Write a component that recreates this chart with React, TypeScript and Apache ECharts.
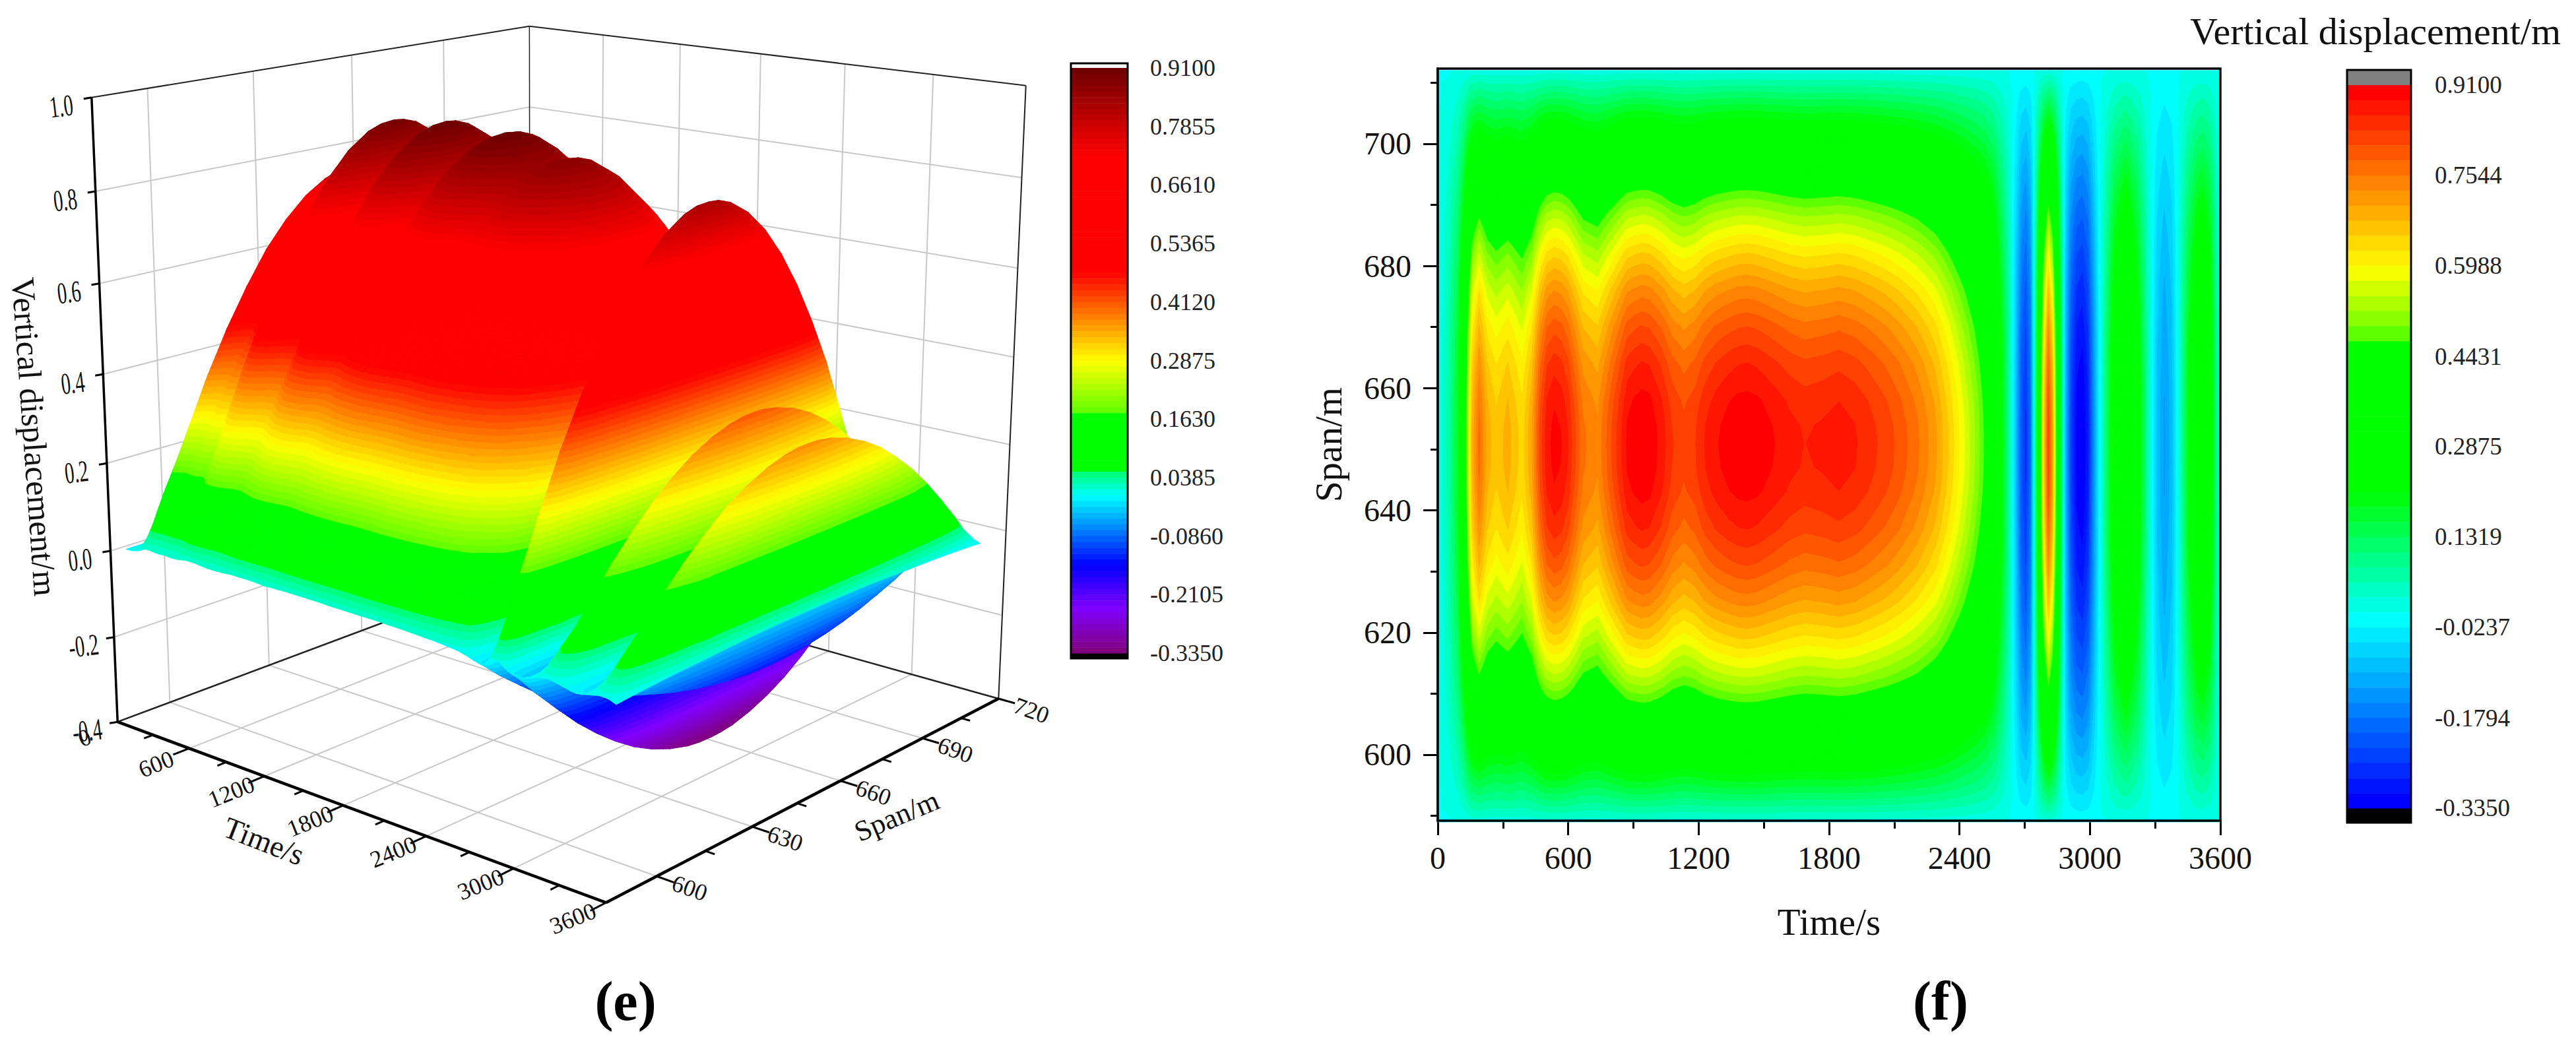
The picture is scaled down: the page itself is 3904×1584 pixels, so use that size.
import React, { useEffect, useRef } from "react";
import * as echarts from "echarts";

const FONT = "'Liberation Serif', 'Times New Roman', serif";

// ---- data ----
const times = [0,50,90,115,135,155,190,230,269,322,387,430,470,500,535,570,600,670,734,800,870,905,939,975,1030,1080,1132,1180,1230,1280,1330,1380,1422,1470,1550,1620,1688,1770,1845,1920,2000,2060,2120,2208,2290,2353,2420,2474,2520,2560,2600,2630,2660,2685,2705,2725,2745,2765,2785,2808,2830,2850,2870,2890,2915,2940,2965,2990,3015,3040,3070,3110,3165,3220,3270,3310,3342,3375,3410,3450,3490,3520,3555,3585,3600];
const spans = [589,595,601,607,613,619,625,631,637,643,647,651,654,658,664,670,676,682,688,694,700,706,712];

const r589 = [0,.001,.004,.007,.010,.014,.015,.014,.013,.014,.013,.014,.016,.018,.018,.018,.017,.015,.015,.016,.018,.018,.018,.018,.018,.017,.016,.017,.017,.018,.018,.018,.018,.018,.018,.017,.017,.017,.017,.017,.017,.016,.016,.015,.014,.013,.012,.010,.009,.007,.004,.001,-.002,-.004,-.005,-.004,.001,.007,.013,.017,.014,.008,.003,-.002,-.005,-.006,-.007,-.006,-.003,0,.002,.006,.008,.005,.001,-.002,-.003,-.002,.001,.004,.007,.007,.006,.002,0];
const r595 = [0,.013,.034,.063,.099,.129,.146,.131,.125,.131,.122,.133,.156,.166,.170,.168,.163,.144,.140,.154,.169,.171,.173,.172,.166,.159,.155,.158,.164,.168,.170,.172,.173,.172,.168,.165,.163,.164,.166,.164,.160,.156,.152,.144,.135,.124,.110,.099,.087,.068,.038,.013,-.015,-.042,-.049,-.034,.010,.067,.122,.158,.133,.080,.025,-.019,-.048,-.061,-.064,-.055,-.029,-.004,.019,.053,.078,.049,.010,-.015,-.025,-.017,.006,.038,.063,.070,.053,.015,.004];
const r601 = [0,.024,.061,.112,.177,.231,.262,.235,.224,.235,.218,.238,.279,.298,.304,.301,.292,.258,.250,.275,.303,.307,.309,.308,.298,.284,.277,.282,.293,.300,.304,.308,.309,.307,.301,.295,.292,.294,.296,.293,.286,.279,.272,.258,.241,.221,.197,.177,.156,.122,.068,.024,-.027,-.075,-.088,-.061,.017,.119,.218,.282,.238,.143,.044,-.034,-.085,-.109,-.114,-.099,-.051,-.007,.034,.095,.139,.088,.017,-.027,-.044,-.031,.010,.068,.112,.126,.095,.027,.007];
const r607 = [0,.034,.087,.160,.252,.330,.373,.335,.320,.335,.310,.340,.398,.424,.434,.429,.417,.369,.356,.393,.432,.437,.441,.439,.424,.405,.395,.403,.418,.428,.434,.439,.440,.438,.429,.421,.416,.419,.423,.418,.407,.399,.388,.369,.344,.315,.281,.252,.223,.175,.097,.034,-.039,-.107,-.126,-.087,.024,.170,.310,.403,.340,.204,.063,-.049,-.121,-.155,-.162,-.141,-.073,-.010,.049,.136,.199,.126,.024,-.039,-.063,-.044,.015,.097,.160,.179,.136,.039,.010];
const r613 = [0,.043,.110,.201,.317,.415,.470,.421,.403,.421,.390,.427,.500,.534,.546,.540,.525,.464,.448,.494,.543,.550,.555,.552,.534,.509,.497,.506,.526,.538,.546,.552,.554,.551,.540,.529,.523,.527,.532,.526,.512,.501,.488,.464,.433,.397,.354,.317,.281,.220,.122,.043,-.049,-.134,-.159,-.110,.031,.214,.390,.506,.427,.256,.079,-.061,-.153,-.195,-.204,-.177,-.092,-.012,.061,.171,.250,.159,.031,-.049,-.079,-.055,.018,.122,.201,.226,.171,.049,.012];
const r619 = [0,.050,.130,.238,.374,.490,.554,.497,.475,.497,.461,.504,.590,.630,.644,.637,.619,.547,.529,.583,.641,.649,.655,.652,.630,.601,.587,.598,.621,.635,.644,.652,.654,.650,.637,.625,.618,.622,.628,.621,.605,.592,.576,.547,.511,.468,.418,.374,.331,.259,.144,.050,-.058,-.158,-.187,-.130,.036,.252,.461,.598,.504,.302,.094,-.072,-.180,-.230,-.241,-.209,-.108,-.014,.072,.202,.295,.187,.036,-.058,-.094,-.065,.022,.144,.238,.266,.202,.058,.014];
const r625 = [0,.057,.147,.269,.424,.554,.628,.562,.538,.562,.522,.571,.668,.713,.729,.721,.701,.619,.599,.660,.725,.735,.742,.738,.713,.681,.664,.676,.703,.719,.729,.738,.740,.736,.721,.707,.699,.704,.711,.703,.685,.670,.652,.619,.579,.530,.473,.424,.375,.293,.163,.057,-.065,-.179,-.212,-.147,.041,.285,.522,.676,.571,.342,.106,-.082,-.204,-.261,-.273,-.236,-.122,-.016,.082,.228,.334,.212,.041,-.065,-.106,-.073,.024,.163,.269,.302,.228,.065,.016];
const r631 = [0,.062,.160,.294,.463,.605,.685,.614,.587,.614,.570,.623,.730,.779,.797,.788,.765,.676,.654,.721,.792,.803,.810,.805,.779,.743,.725,.739,.767,.785,.797,.805,.808,.804,.788,.773,.764,.769,.776,.767,.748,.732,.712,.676,.632,.579,.516,.463,.409,.320,.178,.062,-.071,-.196,-.231,-.160,.045,.312,.570,.739,.623,.374,.116,-.089,-.223,-.285,-.298,-.258,-.134,-.018,.089,.249,.365,.231,.045,-.071,-.116,-.080,.027,.178,.294,.329,.249,.071,.018];
const r637 = [0,.066,.170,.313,.492,.644,.729,.653,.625,.653,.606,.663,.777,.829,.848,.838,.814,.720,.696,.767,.843,.854,.862,.857,.829,.791,.772,.786,.816,.835,.848,.857,.860,.855,.838,.822,.813,.818,.826,.816,.795,.778,.758,.720,.672,.616,.549,.492,.436,.341,.189,.066,-.076,-.208,-.246,-.170,.047,.331,.606,.786,.663,.398,.123,-.095,-.237,-.303,-.317,-.275,-.142,-.019,.095,.265,.388,.246,.047,-.076,-.123,-.085,.028,.189,.313,.350,.265,.076,.019];
const r643 = [0,.069,.177,.325,.512,.669,.758,.679,.649,.679,.630,.689,.807,.861,.881,.871,.846,.748,.723,.797,.876,.888,.895,.891,.861,.822,.802,.817,.848,.868,.881,.891,.893,.889,.871,.854,.844,.850,.858,.848,.827,.809,.787,.748,.699,.640,.571,.512,.453,.354,.197,.069,-.079,-.216,-.256,-.177,.049,.344,.630,.817,.689,.413,.128,-.098,-.246,-.315,-.330,-.285,-.148,-.020,.098,.276,.403,.256,.049,-.079,-.128,-.089,.030,.197,.325,.364,.276,.079,.020];
const r647 = [0,.070,.179,.329,.518,.678,.768,.688,.658,.688,.638,.698,.818,.872,.892,.882,.857,.758,.733,.808,.887,.899,.907,.902,.872,.832,.813,.828,.859,.879,.892,.902,.905,.900,.882,.865,.855,.861,.869,.859,.837,.820,.798,.758,.708,.648,.578,.518,.459,.359,.199,.070,-.080,-.219,-.259,-.179,.050,.349,.638,.828,.698,.419,.130,-.100,-.249,-.319,-.334,-.289,-.150,-.020,.100,.279,.409,.259,.050,-.080,-.130,-.090,.030,.199,.329,.369,.279,.080,.020];
const r651 = [0,.07,.18,.33,.52,.68,.77,.69,.66,.69,.64,.70,.82,.875,.895,.885,.86,.76,.735,.81,.89,.902,.91,.905,.875,.835,.815,.83,.862,.882,.895,.905,.908,.903,.885,.868,.858,.864,.872,.862,.84,.822,.80,.76,.71,.65,.58,.52,.46,.36,.20,.07,-.08,-.22,-.26,-.18,.05,.35,.64,.83,.70,.42,.13,-.10,-.25,-.32,-.335,-.29,-.15,-.02,.10,.28,.41,.26,.05,-.08,-.13,-.09,.03,.20,.33,.37,.28,.08,.02];
// the picture is mirror-symmetric about mid-span, so the rows above 651 m read the same
const displacement = [r589,r595,r601,r607,r613,r619,r625,r631,r637,r643,r647,r651,r647,r643,r637,r631,r625,r619,r613,r607,r601,r595,r589];

const leftBarTicks = [0.91,0.7855,0.661,0.5365,0.412,0.2875,0.163,0.0385,-0.086,-0.2105,-0.335];
const rightBarTicks = [0.91,0.7544,0.5988,0.4431,0.2875,0.1319,-0.0237,-0.1794,-0.335];
const heatXMajor = [0,600,1200,1800,2400,3000,3600];
const heatYMajor = [600,620,640,660,680,700];
const heatYMinor = [590,610,630,650,670,690,710];
const box3dTimes = [600,1200,1800,2400,3000];
const box3dTimeMinor = [300,900,1500,2100,2700,3300];
const box3dSpans = [600,630,660,690];
const box3dSpanMinor = [615,645,675,705];
const box3dZ = [-0.2,0,0.2,0.4,0.6,0.8];
const box3dZLabels = ["1.0","0.8","0.6","0.4","0.2","0.0","-0.2","-0.4"];

const leftStopV = [0.905,0.722,0.474,0.287,0.181,0.178,0.0535,0.045,0,-0.148,-0.24,-0.33];
const leftStopC = ["#700000","#ff0000","#ff0000","#ffff00","#66ff00","#00ff00","#00ff00","#00ff80","#00ffff","#0000ff","#8000ff","#800080"];
const rightStopV = [0.897,0.593,0.483,0.47,0.209,-0.01,-0.322];
const rightStopC = ["#ff0000","#ffff00","#66ff00","#00ff00","#00ff00","#00ffff","#0000ff"];

// ---- colour bands ----
const hex = (c: string) => [1, 3, 5].map((i) => parseInt(c.slice(i, i + 2), 16));
function colorAt(v: number, sv: number[], sc: string[]) {
  if (v >= sv[0]) return sc[0];
  for (let i = 1; i < sv.length; i++) {
    if (v >= sv[i]) {
      const f = (v - sv[i]) / (sv[i - 1] - sv[i]);
      const a = hex(sc[i]), b = hex(sc[i - 1]);
      return `rgb(${a.map((x, k) => Math.round(x + (b[k] - x) * f)).join(",")})`;
    }
  }
  return sc[sc.length - 1];
}
type Band = { lo: number; hi: number; color: string };
function makeBands(n: number, sv: number[], sc: string[]): Band[] {
  const step = (0.91 + 0.335) / n;
  const out: Band[] = [];
  for (let k = 0; k < n; k++) {
    const hi = 0.91 - k * step, lo = hi - step;
    out.push({ lo, hi, color: colorAt((lo + hi) / 2, sv, sc) });
  }
  return out;
}
const leftBands = makeBands(100, leftStopV, leftStopC);
const rightBands = makeBands(48, rightStopV, rightStopC);

// ---- contour clipping on the data grid ----
type P = [number, number, number];
function clip(poly: P[], limit: number, above: boolean): P[] {
  const out: P[] = [];
  for (let i = 0; i < poly.length; i++) {
    const a = poly[i], b = poly[(i + 1) % poly.length];
    const ia = above ? a[2] >= limit : a[2] <= limit;
    const ib = above ? b[2] >= limit : b[2] <= limit;
    if (ia) out.push(a);
    if (ia !== ib) {
      const f = (limit - a[2]) / (b[2] - a[2]);
      out.push([a[0] + (b[0] - a[0]) * f, a[1] + (b[1] - a[1]) * f, limit]);
    }
  }
  return out;
}
function cellBands(i: number, j: number, bands: Band[]) {
  const c00: P = [times[i], spans[j], displacement[j][i]];
  const c10: P = [times[i + 1], spans[j], displacement[j][i + 1]];
  const c11: P = [times[i + 1], spans[j + 1], displacement[j + 1][i + 1]];
  const c01: P = [times[i], spans[j + 1], displacement[j + 1][i]];
  const m: P = [(c00[0] + c10[0]) / 2, (c00[1] + c01[1]) / 2, (c00[2] + c10[2] + c11[2] + c01[2]) / 4];
  const tris: P[][] = [[c00, c10, m], [c10, c11, m], [c11, c01, m], [c01, c00, m]];
  const n = bands.length;
  const step = 1.245 / n;
  const res = new Map<number, P[][]>();
  for (const tri of tris) {
    const vs = tri.map((p) => p[2]);
    const k0 = Math.max(0, Math.min(n - 1, Math.floor((0.91 - Math.max(...vs)) / step)));
    const k1 = Math.max(0, Math.min(n - 1, Math.floor((0.91 - Math.min(...vs)) / step)));
    for (let k = k0; k <= k1; k++) {
      let poly: P[] = tri;
      if (k > 0) poly = clip(poly, bands[k].hi, false);
      if (k < n - 1 && poly.length) poly = clip(poly, bands[k].lo, true);
      if (poly.length >= 3) {
        if (!res.has(k)) res.set(k, []);
        res.get(k)!.push(poly);
      }
    }
  }
  return res;
}

// ---- cameras: the box is fitted to its corners, the surface also to its own landmarks ----
type Fit = [number, number, number, number, number];
const mid = (651 - 585) / 135;
const boxCorners: Fit[] = [
  [0, 0, 0, 180, 1096], [1, 0, 0, 916, 1368], [1, 1, 0, 1515, 1058], [0, 1, 0, 802, 860],
  [0, 0, 1, 139, 146], [0, 1, 1, 802, 40], [1, 1, 1, 1555, 131],
];
const surfaceMarks: Fit[] = [
  [2965 / 3600, mid, 0.065 / 1.4, 1020, 1128],
  [2808 / 3600, mid, 1.23 / 1.4, 1088, 308],
  [939 / 3600, mid, 1.31 / 1.4, 682, 180],
  [1422 / 3600, mid, 1.308 / 1.4, 777, 212],
  [1845 / 3600, mid, 1.272 / 1.4, 871, 252],
  [0, 4 / 135, 0.4 / 1.4, 193, 830],
  [1, 4 / 135, 0.4 / 1.4, 945, 1061],
  [1, 127 / 135, 0.4 / 1.4, 1489, 816],
];
function fitCamera(points: Fit[]) {
  const rows: number[][] = [];
  for (const [x, y, z, u0, w0] of points) {
    const u = u0 / 1000, w = w0 / 1000;
    rows.push([x, y, z, 1, 0, 0, 0, 0, -u * x, -u * y, -u * z, u]);
    rows.push([0, 0, 0, 0, x, y, z, 1, -w * x, -w * y, -w * z, w]);
  }
  const n = 11;
  const M = Array.from({ length: n }, () => new Array(n + 1).fill(0));
  for (const r of rows) for (let a = 0; a < n; a++) for (let b = 0; b <= n; b++) M[a][b] += r[a] * r[b];
  for (let a = 0; a < n; a++) {
    let p = a;
    for (let q = a + 1; q < n; q++) if (Math.abs(M[q][a]) > Math.abs(M[p][a])) p = q;
    [M[a], M[p]] = [M[p], M[a]];
    for (let q = 0; q < n; q++) {
      if (q === a) continue;
      const f = M[q][a] / M[a][a];
      for (let b = a; b <= n; b++) M[q][b] -= f * M[a][b];
    }
  }
  return M.map((r, i) => r[n] / r[i]);
}
const camBox = fitCamera(boxCorners);
const camSurface = fitCamera(boxCorners.concat(surfaceMarks));
function projectWith(cam: number[], t: number, s: number, v: number): [number, number] {
  const x = t / 3600, y = (s - 585) / 135, z = (v + 0.4) / 1.4;
  const d = cam[8] * x + cam[9] * y + cam[10] * z + 1;
  return [
    (1000 * (cam[0] * x + cam[1] * y + cam[2] * z + cam[3])) / d,
    (1000 * (cam[4] * x + cam[5] * y + cam[6] * z + cam[7])) / d,
  ];
}
const project = (t: number, s: number, v: number) => projectWith(camBox, t, s, v);

function pathOf(polys: P[][], map: (p: P) => number[]) {
  let d = "";
  for (const poly of polys) {
    poly.forEach((p, i) => {
      const q = map(p);
      d += (i ? "L" : "M") + q[0].toFixed(1) + " " + q[1].toFixed(1);
    });
    d += "Z";
  }
  return d;
}

// ---- 3D frame ----
const GRID = "#c8c8c8";
function seg(a: number[], b: number[], stroke: string, lineWidth: number) {
  return { type: "line", shape: { x1: a[0], y1: a[1], x2: b[0], y2: b[1] }, style: { stroke, lineWidth } };
}
function label(text: string, x: number, y: number, fontSize: number, rotation = 0, scaleX = 1) {
  return {
    type: "text", x, y, rotation, scaleX,
    style: { text, fontSize, fontFamily: FONT, fill: "#111", align: "center", verticalAlign: "middle" },
  };
}
const TMIN = 0, TMAX = 3600, SMIN = 585, SMAX = 720, ZMIN = -0.4, ZMAX = 1;
function frameBack() {
  const c: any[] = [];
  for (const t of box3dTimes) {
    c.push(seg(project(t, SMIN, ZMIN), project(t, SMAX, ZMIN), GRID, 2));
    c.push(seg(project(t, SMAX, ZMIN), project(t, SMAX, ZMAX), GRID, 2));
  }
  for (const s of box3dSpans) {
    c.push(seg(project(TMIN, s, ZMIN), project(TMAX, s, ZMIN), GRID, 2));
    c.push(seg(project(TMIN, s, ZMIN), project(TMIN, s, ZMAX), GRID, 2));
  }
  for (const z of box3dZ) {
    c.push(seg(project(TMIN, SMIN, z), project(TMIN, SMAX, z), GRID, 2));
    c.push(seg(project(TMIN, SMAX, z), project(TMAX, SMAX, z), GRID, 2));
  }
  const K = "#222";
  c.push(seg(project(TMIN, SMIN, ZMIN), project(TMIN, SMAX, ZMIN), K, 2.5));
  c.push(seg(project(TMIN, SMAX, ZMIN), project(TMAX, SMAX, ZMIN), K, 2.5));
  c.push(seg(project(TMIN, SMAX, ZMIN), project(TMIN, SMAX, ZMAX), K, 1.5));
  c.push(seg(project(TMIN, SMIN, ZMAX), project(TMIN, SMAX, ZMAX), K, 2));
  c.push(seg(project(TMIN, SMAX, ZMAX), project(TMAX, SMAX, ZMAX), K, 2));
  c.push(seg(project(TMAX, SMAX, ZMIN), project(TMAX, SMAX, ZMAX), K, 2));
  return c;
}
function frameFront() {
  const c: any[] = [];
  const K = "#000";
  c.push(seg(project(TMIN, SMIN, ZMIN), project(TMIN, SMIN, ZMAX), K, 3.5));
  c.push(seg(project(TMIN, SMIN, ZMIN), project(TMAX, SMIN, ZMIN), K, 4.5));
  c.push(seg(project(TMAX, SMIN, ZMIN), project(TMAX, SMAX, ZMIN), K, 4.5));
  for (const t of box3dTimes.concat([3600])) c.push(seg(project(t, SMIN, ZMIN), project(t, SMIN - 4.5, ZMIN), K, 3));
  for (const t of box3dTimeMinor) c.push(seg(project(t, SMIN, ZMIN), project(t, SMIN - 2.5, ZMIN), K, 3));
  for (const s of box3dSpans.concat([720])) c.push(seg(project(TMAX, s, ZMIN), project(TMAX + 110, s, ZMIN), K, 3));
  for (const s of box3dSpanMinor) c.push(seg(project(TMAX, s, ZMIN), project(TMAX + 60, s, ZMIN), K, 3));
  box3dZLabels.forEach((txt, i) => {
    const v = 1 - i * 0.2;
    const q = project(TMIN, SMIN, v);
    c.push(seg(q, [q[0] - 12, q[1] + 2], K, 3));
    c.push(label(txt, q[0] - 46, q[1] + 13, 46, 0.12, 0.62));
  });
  for (const t of [0].concat(box3dTimes, [3600])) {
    const q = project(t, SMIN, ZMIN);
    c.push(label(String(t), q[0] - 50, q[1] + 24, 36, 0.38));
  }
  for (const s of box3dSpans.concat([720])) {
    const q = project(TMAX, s, ZMIN);
    c.push(label(String(s), q[0] + 50, q[1] + 18, 36, -0.34));
  }
  c.push(label("Time/s", 400, 1275, 46, -0.37));
  c.push(label("Span/m", 1359, 1237, 44, 0.4));
  c.push(label("Vertical displacement/m", 52, 662, 50, -1.5));
  return c;
}

// ---- component ----
export default function App() {
  const ref = useRef<HTMLDivElement>(null);
  useEffect(() => {
    document.body.style.margin = "0";
    const chart = echarts.init(ref.current!, undefined, { renderer: "svg", width: 3904, height: 1584 });

    // band polygons of the contour map, merged per band
    const heatPolys: P[][][] = rightBands.map(() => []);
    for (let i = 0; i < times.length - 1; i++)
      for (let j = 0; j < spans.length - 1; j++)
        cellBands(i, j, rightBands).forEach((polys, k) => heatPolys[k].push(...polys));

    // far corner first: small time, large span
    const cells: number[][] = [];
    for (let i = 0; i < times.length - 1; i++)
      for (let j = spans.length - 2; j >= 0; j--) cells.push([i, j]);

    const barSeries = (name: string, idx: number, items: any[]) => ({
      type: "custom", name, xAxisIndex: idx, yAxisIndex: idx, silent: true, z: 3,
      data: items,
      renderItem: (_: any, api: any) => {
        const p0 = api.coord([0, api.value(1)]);
        const p1 = api.coord([1, api.value(0)]);
        return {
          type: "rect",
          shape: { x: p0[0], y: p0[1], width: p1[0] - p0[0], height: p1[1] - p0[1] + 0.5 },
          style: { fill: items[api.value(2)][3] },
        };
      },
    });
    const leftBarItems: any[] = leftBands.map((b, i) => [b.lo, b.hi, i + 2, b.color]);
    leftBarItems.unshift([0.91, 0.9198, 0, "#ffffff"], [-0.3462, -0.335, 1, "#000000"]);
    const rightBarItems: any[] = rightBands.map((b, i) => [b.lo, b.hi, i + 2, b.color]);
    rightBarItems.unshift([0.91, 0.9361, 0, "#808080"], [-0.36, -0.335, 1, "#000000"]);

    const hiddenX = (gridIndex: number) => ({
      type: "value", gridIndex, min: 0, max: 1, show: false,
    });
    const barY = (gridIndex: number, min: number, max: number, ticks: number[], margin: number, fontSize: number) => ({
      type: "value", gridIndex, min, max, position: "right",
      axisLine: { show: false },
      splitLine: { show: false },
      axisTick: { show: true, customValues: ticks, length: 20, lineStyle: { color: "#111", width: 2 } },
      axisLabel: {
        show: true, customValues: ticks, margin, fontSize, fontFamily: FONT, color: "#222",
        formatter: (v: number) => v.toFixed(4),
      },
    });

    chart.setOption({
      animation: false,
      backgroundColor: "#ffffff",
      grid: [
        { left: 2179, top: 104, width: 1186, height: 1140 },
        { left: 1623, top: 96, width: 86, height: 902, show: true, borderColor: "#000", borderWidth: 3, z: 10, backgroundColor: "transparent" },
        { left: 3557, top: 106, width: 97, height: 1141, show: true, borderColor: "#000", borderWidth: 3, z: 10, backgroundColor: "transparent" },
        { left: 2179, top: 104, width: 1186, height: 1140, show: true, borderColor: "#000", borderWidth: 3.5, z: 10, backgroundColor: "transparent" },
      ],
      xAxis: [
        {
          type: "value", gridIndex: 0, min: 0, max: 3600, interval: 600,
          name: "Time/s", nameLocation: "middle", nameGap: 125,
          nameTextStyle: { fontSize: 57, fontFamily: FONT, color: "#111" },
          axisLine: { show: true, lineStyle: { color: "#000", width: 3.5 } },
          axisTick: { show: true, length: 22, lineStyle: { color: "#000", width: 3 } },
          minorTick: { show: true, splitNumber: 2, length: 12, lineStyle: { color: "#000", width: 3 } },
          axisLabel: { fontSize: 48, fontFamily: FONT, color: "#111", margin: 32, customValues: heatXMajor, formatter: (v: number) => String(v) },
          splitLine: { show: false },
        },
        hiddenX(1),
        hiddenX(2),
        { type: "value", gridIndex: 3, min: 0, max: 3600, show: false },
      ],
      yAxis: [
        {
          type: "value", gridIndex: 0, min: 589.2, max: 712.3,
          name: "Span/m", nameLocation: "middle", nameGap: 137, nameRotate: 90,
          nameTextStyle: { fontSize: 57, fontFamily: FONT, color: "#111" },
          axisLine: { show: true, lineStyle: { color: "#000", width: 3.5 } },
          axisTick: { show: true, length: 22, customValues: heatYMajor, lineStyle: { color: "#000", width: 3 } },
          axisLabel: { fontSize: 48, fontFamily: FONT, color: "#111", margin: 40, customValues: heatYMajor },
          splitLine: { show: false },
        },
        barY(1, -0.3462, 0.9198, leftBarTicks, 34, 36),
        barY(2, -0.36, 0.9361, rightBarTicks, 36, 37),
        {
          type: "value", gridIndex: 3, min: 589.2, max: 712.3,
          axisLine: { show: false },
          axisLabel: { show: false },
          splitLine: { show: false },
          axisTick: { show: true, length: 11, customValues: heatYMinor, lineStyle: { color: "#000", width: 3 } },
        },
      ],
      graphic: [
        { type: "text", x: 3600, y: 47, style: { text: "Vertical displacement/m", fontSize: 58, fontFamily: FONT, fill: "#111", align: "center", verticalAlign: "middle" } },
        { type: "text", x: 948, y: 1517, style: { text: "(e)", fontSize: 84, fontWeight: "bold", fontFamily: FONT, fill: "#000", align: "center", verticalAlign: "middle" } },
        { type: "text", x: 2941, y: 1517, style: { text: "(f)", fontSize: 84, fontWeight: "bold", fontFamily: FONT, fill: "#000", align: "center", verticalAlign: "middle" } },
      ],
      series: [
        {
          type: "custom", name: "frame back", coordinateSystem: "none", silent: true, z: 1, data: [[0]],
          renderItem: () => ({ type: "group", children: frameBack() }),
        },
        {
          type: "custom", name: "surface", coordinateSystem: "none", silent: true, z: 2, data: cells, progressive: 0,
          renderItem: (_: any, api: any) => {
            const polys = cellBands(api.value(0), api.value(1), leftBands);
            const children: any[] = [];
            polys.forEach((ps, k) => {
              const col = leftBands[k].color;
              children.push({
                type: "path",
                shape: { pathData: pathOf(ps, (p) => projectWith(camSurface, p[0], p[1], p[2])) },
                style: { fill: col, stroke: col, lineWidth: 0.8 },
              });
            });
            return { type: "group", children };
          },
        },
        {
          type: "custom", name: "frame front", coordinateSystem: "none", silent: true, z: 3, data: [[0]],
          renderItem: () => ({ type: "group", children: frameFront() }),
        },
        {
          type: "custom", name: "contour", xAxisIndex: 0, yAxisIndex: 0, silent: true, z: 2, progressive: 0,
          data: rightBands.map((_, k) => [k]),
          renderItem: (_: any, api: any) => {
            const k = api.value(0);
            if (!heatPolys[k].length) return { type: "group", children: [] };
            const col = rightBands[k].color;
            return {
              type: "path",
              shape: { pathData: pathOf(heatPolys[k], (p) => api.coord([p[0], p[1]])) },
              style: { fill: col, stroke: col, lineWidth: 0.8 },
            };
          },
        },
        barSeries("left scale", 1, leftBarItems),
        barSeries("right scale", 2, rightBarItems),
      ],
    });
    return () => chart.dispose();
  }, []);
  return <div ref={ref} style={{ width: 3904, height: 1584 }} />;
}
